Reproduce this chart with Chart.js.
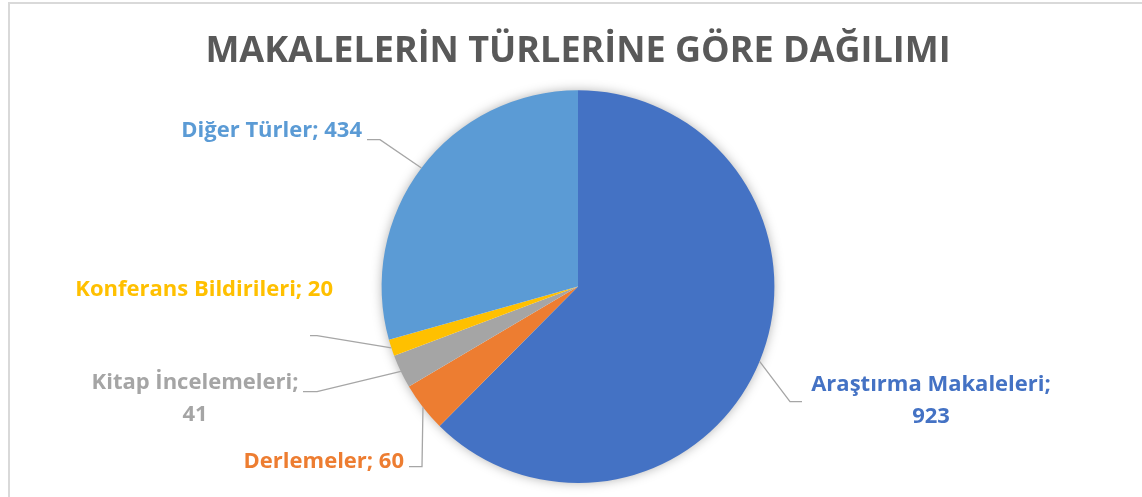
<!DOCTYPE html>
<html>
<head>
<meta charset="utf-8">
<script src="https://cdn.jsdelivr.net/npm/chart.js@4.4.0/dist/chart.umd.min.js"></script>
<style>
  html, body { margin: 0; padding: 0; background: #fff; }
  #wrap { width: 1142px; height: 497px; }
</style>
</head>
<body>
<div id="wrap"><canvas id="pie" width="1142" height="497"></canvas></div>
<script>
// data
const categories = ['Araştırma Makaleleri', 'Derlemeler', 'Kitap İncelemeleri', 'Konferans Bildirileri', 'Diğer Türler'];
const counts = [923, 60, 41, 20, 434];
const colors = ['#4472C4', '#ED7D31', '#A5A5A5', '#FFC000', '#5B9BD5'];

// label placement relative to pie centre: elbow, line end, text anchor, alignment, lines
const labelSpots = [
  { elbow: [212, 115], end: [224, 115], text: [353, 98], align: 'center', lines: ['Araştırma Makaleleri;', '923'] },
  { elbow: [-156, 180], end: [-169, 180], text: [-174, 175], align: 'right', lines: ['Derlemeler; 60'] },
  { elbow: [-261, 105], end: [-275, 105], text: [-383, 96], align: 'center', lines: ['Kitap İncelemeleri;', '41'] },
  { elbow: [-261, 49], end: [-268, 49], text: [-245, 3], align: 'right', lines: ['Konferans Bildirileri; 20'] },
  { elbow: [-198, -147], end: [-211, -147], text: [-216, -156], align: 'right', lines: ['Diğer Türler; 434'] }
];

const frame = {
  id: 'frame',
  beforeDraw(chart) {
    const c = chart.ctx;
    c.save();
    c.fillStyle = '#fff';
    c.fillRect(0, 0, chart.width, chart.height);
    c.strokeStyle = '#D9D9D9';
    c.lineWidth = 2;
    c.strokeRect(9, 3, chart.width + 20, chart.height + 20);
    c.restore();
  },
  beforeDatasetsDraw(chart) {
    const arc = chart.getDatasetMeta(0).data[0];
    if (!arc) return;
    const c = chart.ctx;
    c.save();
    c.shadowColor = 'rgba(0,0,0,0.35)';
    c.shadowBlur = 12;
    c.fillStyle = '#fff';
    c.beginPath();
    c.arc(arc.x, arc.y, arc.outerRadius - 1, 0, Math.PI * 2);
    c.fill();
    c.restore();
  }
};

const calloutLabels = {
  id: 'calloutLabels',
  afterDatasetsDraw(chart) {
    const c = chart.ctx;
    const meta = chart.getDatasetMeta(0);
    c.save();
    meta.data.forEach((arc, i) => {
      const spot = labelSpots[i];
      const mid = (arc.startAngle + arc.endAngle) / 2;
      const sx = arc.x + Math.cos(mid) * arc.outerRadius;
      const sy = arc.y + Math.sin(mid) * arc.outerRadius;
      c.strokeStyle = '#A6A6A6';
      c.lineWidth = 1.3;
      c.beginPath();
      c.moveTo(sx, sy);
      c.lineTo(arc.x + spot.elbow[0], arc.y + spot.elbow[1]);
      c.lineTo(arc.x + spot.end[0], arc.y + spot.end[1]);
      c.stroke();

      c.fillStyle = colors[i];
      c.font = 'bold 22px "Open Sans"';
      c.textAlign = spot.align;
      c.textBaseline = 'middle';
      spot.lines.forEach((ln, k) => {
        c.fillText(ln, arc.x + spot.text[0], arc.y + spot.text[1] + k * 32);
      });
    });
    c.restore();
  }
};

new Chart(document.getElementById('pie').getContext('2d'), {
  type: 'pie',
  data: {
    labels: categories,
    datasets: [{
      data: counts,
      backgroundColor: colors,
      borderWidth: 0
    }]
  },
  options: {
    responsive: false,
    animation: false,
    layout: { padding: { left: 20, right: 6, top: 0, bottom: 14 } },
    plugins: {
      legend: { display: false },
      tooltip: { enabled: false },
      title: {
        display: true,
        text: 'MAKALELERİN TÜRLERİNE GÖRE DAĞILIMI',
        color: '#595959',
        font: { family: 'Open Sans', size: 36, weight: 'bold' },
        padding: { top: 30, bottom: 17 }
      }
    }
  },
  plugins: [frame, calloutLabels]
});
</script>
</body>
</html>
